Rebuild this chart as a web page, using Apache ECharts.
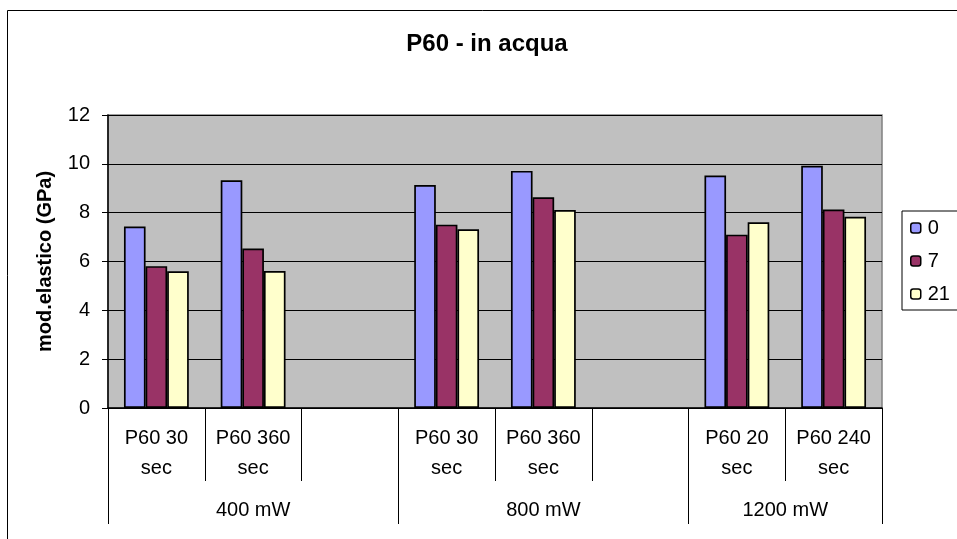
<!DOCTYPE html>
<html>
<head>
<meta charset="utf-8">
<script src="https://cdn.jsdelivr.net/npm/echarts@6/dist/echarts.min.js"></script>
<style>
html,body{margin:0;padding:0;background:#fff;}
#c{width:957px;height:539px;}
</style>
</head>
<body>
<div id="c"></div>
<script>
const categories = ['P60 30\nsec', 'P60 360\nsec', '', 'P60 30\nsec', 'P60 360\nsec', '', 'P60 20\nsec', 'P60 240\nsec'];
const groupNames = ['400 mW', '800 mW', '1200 mW'];
const groupSizes = [3, 3, 2];
const seriesNames = ['0', '7', '21'];
const values0 = [7.43, 9.33, null, 9.13, 9.71, null, 9.52, 9.92];
const values7 = [5.81, 6.53, null, 7.51, 8.63, null, 7.10, 8.13];
const values21 = [5.60, 5.61, null, 7.32, 8.11, null, 7.61, 7.83];
const yTicks = [0, 2, 4, 6, 8, 10, 12];

const FONT = 'Liberation Sans, Arial, sans-serif';
const colors = ['#9999FF', '#993366', '#FFFFCC'];

const bounds = [0];
groupSizes.forEach(s => bounds.push(bounds[bounds.length - 1] + s));
const centers = groupSizes.map((s, i) => bounds[i] + s / 2);

const chart = echarts.init(document.getElementById('c'), null, {renderer: 'canvas'});
const mk = (name, data, i) => ({
  name: name, type: 'bar', data: data, xAxisIndex: 0,
  barGap: '0%', barCategoryGap: '33%',
  itemStyle: {color: colors[i], borderColor: '#000', borderWidth: 1.7},
  emphasis: {disabled: true}
});
chart.setOption({
  animation: false,
  textStyle: {fontFamily: FONT},
  graphic: [
    {type: 'rect', shape: {x: 7.5, y: 10.5, width: 1000, height: 600},
     style: {fill: 'none', stroke: '#000', lineWidth: 1}, z: -10},
    {type: 'text', x: 487, y: 44, style: {text: 'P60 - in acqua', font: 'bold 24px ' + FONT,
     fill: '#000', align: 'center', verticalAlign: 'middle'}}
  ],
  grid: {left: 108, right: 75, top: 115, bottom: 131, show: true,
         backgroundColor: '#C0C0C0', borderColor: '#808080', borderWidth: 1.5},
  legend: {
    orient: 'vertical', left: 902, top: 211,
    data: seriesNames,
    itemWidth: 10, itemHeight: 10, itemGap: 13,
    padding: [7, 30, 6, 8],
    borderColor: '#000', borderWidth: 1, backgroundColor: '#fff',
    itemStyle: {borderColor: '#000', borderWidth: 1.5},
    textStyle: {fontSize: 20, color: '#000', fontFamily: FONT, padding: [0, 0, 0, 2]}
  },
  xAxis: [
    {
      type: 'category', data: categories, position: 'bottom',
      axisLine: {show: true, lineStyle: {color: '#000', width: 1.5}},
      axisTick: {show: true, interval: 0, length: 73, lineStyle: {color: '#000'}},
      axisLabel: {interval: 0, fontSize: 20, color: '#000', lineHeight: 30, margin: 15, fontFamily: FONT},
      splitLine: {show: false}
    },
    {
      type: 'value', min: 0, max: bounds[bounds.length - 1], position: 'bottom', offset: 0,
      axisLine: {show: false},
      axisTick: {show: true, customValues: bounds, length: 116, lineStyle: {color: '#000'}},
      axisLabel: {show: true, customValues: centers, fontSize: 20, color: '#000', margin: 92,
        fontFamily: FONT,
        formatter: function (v) {
          const i = centers.findIndex(c => Math.abs(c - v) < 1e-6);
          return i >= 0 ? groupNames[i] : '';
        }},
      splitLine: {show: false}
    }
  ],
  yAxis: {
    type: 'value', min: yTicks[0], max: yTicks[yTicks.length - 1], interval: 2,
    name: 'mod.elastico (GPa)', nameLocation: 'middle', nameRotate: 90, nameGap: 53,
    nameTextStyle: {fontSize: 20, fontWeight: 'bold', color: '#000', fontFamily: FONT},
    axisLine: {show: true, lineStyle: {color: '#000', width: 1.5}},
    axisTick: {show: true, inside: false, length: 6, lineStyle: {color: '#000'}},
    axisLabel: {fontSize: 20, color: '#000', margin: 18, fontFamily: FONT},
    splitLine: {show: true, lineStyle: {color: '#000', width: 1}}
  },
  series: [mk(seriesNames[0], values0, 0), mk(seriesNames[1], values7, 1), mk(seriesNames[2], values21, 2)]
});
</script>
</body>
</html>
